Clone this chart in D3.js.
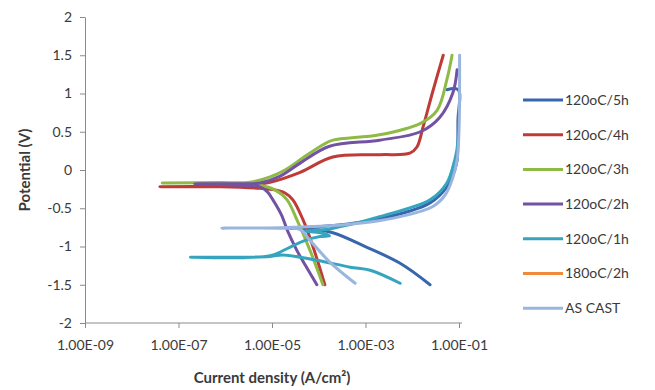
<!DOCTYPE html>
<html>
<head>
<meta charset="utf-8">
<script src="https://cdn.jsdelivr.net/npm/d3@7/dist/d3.min.js"></script>
<style>
  body { margin: 0; background: #fff; }
  svg text { font-family: Lato, "Open Sans", sans-serif; fill: #3a3a3a; }
</style>
</head>
<body>
<svg id="chart" width="655" height="390"></svg>
<script>
// Series names, in legend / drawing order
const seriesNames = ["120oC/5h", "120oC/4h", "120oC/3h", "120oC/2h", "120oC/1h", "180oC/2h", "AS CAST"];
const seriesColors = ["#3766ad", "#be3b37", "#8fba45", "#7352a3", "#35a5bf", "#f08a3a", "#9ab5de"];

// Polarisation curves: [current density (A/cm2), potential (V)]
const h5 = [[2.4e-2,-1.50],[5.5e-3,-1.22],[1.07e-3,-1.01],[2.0e-4,-0.82],[6.5e-5,-0.77],[4.0e-5,-0.76],[2.4e-5,-0.76],
  [4.0e-5,-0.755],[1.7e-4,-0.73],[2.0e-3,-0.64],[2.4e-2,-0.43],[5.5e-2,-0.22],[8.1e-2,0.0],[9.1e-2,0.13],[9.5e-2,0.65],[9.6e-2,1.05],[5.5e-2,1.05]];
const h4 = [[1.35e-4,-1.50],[7.6e-5,-1.01],[4.6e-5,-0.65],[2.8e-5,-0.39],[1.9e-5,-0.30],[1.15e-5,-0.26],[5.5e-6,-0.24],[7.8e-7,-0.22],[4.0e-8,-0.22],
  [7.8e-7,-0.21],[3.4e-6,-0.20],[9.1e-6,-0.16],[4.0e-5,-0.03],[2.0e-4,0.17],[2.0e-3,0.20],[8.9e-3,0.22],[1.26e-2,0.30],[1.7e-2,0.56],[2.7e-2,1.01],[4.6e-2,1.50]];
const h3 = [[1.23e-4,-1.50],[6.5e-5,-1.05],[3.4e-5,-0.65],[2.1e-5,-0.39],[1.15e-5,-0.26],[5.5e-6,-0.20],[7.8e-7,-0.17],[4.5e-8,-0.17],
  [7.8e-7,-0.165],[3.4e-6,-0.16],[9.1e-6,-0.09],[1.9e-5,0.0],[4.6e-5,0.16],[1.23e-4,0.33],[2.0e-4,0.39],[2.0e-3,0.46],[1.5e-2,0.61],[3.4e-2,0.78],[5.5e-2,1.18],[7.1e-2,1.50]];
const h2 = [[9.1e-5,-1.50],[5.1e-5,-1.24],[3.4e-5,-1.05],[2.2e-5,-0.81],[1.6e-5,-0.59],[1.15e-5,-0.43],[1.0e-5,-0.37],[8.1e-6,-0.29],[5.5e-6,-0.22],[2.1e-6,-0.20],[2.2e-7,-0.18],
  [2.1e-6,-0.18],[5.5e-6,-0.17],[1.5e-5,-0.08],[4.0e-5,0.09],[1.7e-4,0.31],[2.0e-3,0.39],[1.5e-2,0.50],[3.9e-2,0.69],[7.4e-2,1.01],[9.1e-2,1.31]];
const h1 = [[5.5e-3,-1.48],[1.26e-3,-1.31],[4.7e-4,-1.27],[9.1e-5,-1.18],[1.7e-5,-1.11],[9.1e-6,-1.13],[1.8e-7,-1.14],
  [9.1e-6,-1.12],[2.4e-5,-1.01],[5.1e-5,-0.92],[1.07e-4,-0.87],[1.7e-4,-0.86],[1.07e-4,-0.82],[5.1e-5,-0.80],
  [1.7e-4,-0.77],[2.0e-3,-0.61],[2.4e-2,-0.39],[5.5e-2,-0.17],[8.1e-2,0.13],[9.0e-2,0.26],[9.5e-2,0.39]];
const c180h2 = [];
const asCast = [[6.0e-4,-1.48],[1.7e-4,-1.20],[6.5e-5,-0.92],[4.0e-5,-0.78],[1.5e-5,-0.76],[8.5e-7,-0.76],
  [1.5e-5,-0.755],[1.7e-4,-0.73],[1.26e-3,-0.68],[5.5e-3,-0.61],[2.7e-2,-0.48],[5.0e-2,-0.33],[7.1e-2,-0.13],[9.1e-2,0.13],[1.0e-1,0.52],[1.03e-1,1.50]];
const seriesData = [h5, h4, h3, h2, h1, c180h2, asCast];

// Axes
const xTicks = [1e-9, 1e-7, 1e-5, 1e-3, 1e-1];
const xTickLabels = ["1.00E-09", "1.00E-07", "1.00E-05", "1.00E-03", "1.00E-01"];
const yTicks = [-2, -1.5, -1, -0.5, 0, 0.5, 1, 1.5, 2];
const xTitle = "Current density (A/cm²)";
const yTitle = "Potential (V)";

const svg = d3.select("#chart");
const margin = { top: 17, left: 85, right: 196, bottom: 67 };
const width = 655, height = 390;

const x = d3.scaleLog().domain([1e-9, 1e-1]).range([margin.left, width - margin.right]);
const y = d3.scaleLinear().domain([-2, 2]).range([height - margin.bottom, margin.top]);

const axisColor = "#8a8a8a";

// X axis
const gx = svg.append("g")
  .attr("transform", `translate(0,${height - margin.bottom})`)
  .call(d3.axisBottom(x).tickValues(xTicks).tickFormat((d, i) => xTickLabels[i]).tickSize(5).tickSizeOuter(0));
gx.select(".domain").attr("stroke", axisColor).attr("d", `M${x(1e-9)},0H${x(1e-1) + 3}`);
gx.selectAll(".tick line").attr("stroke", axisColor);
gx.selectAll(".tick text").attr("dy", "1.35em").style("font-size", "14px");

// Y axis
const gy = svg.append("g")
  .attr("transform", `translate(${margin.left},0)`)
  .call(d3.axisLeft(y).tickValues(yTicks).tickFormat(d => String(d)).tickSize(5).tickSizeOuter(0));
gy.select(".domain").attr("stroke", axisColor);
gy.selectAll(".tick line").attr("stroke", axisColor);
gy.selectAll(".tick text").attr("x", -13).style("font-size", "14px");
gy.selectAll("text").attr("fill", null);
gx.selectAll("text").attr("fill", null);

// Axis titles
svg.append("text")
  .attr("x", (x(1e-9) + x(1e-1)) / 2)
  .attr("y", 383)
  .attr("text-anchor", "middle")
  .style("font-size", "15px").style("font-weight", "bold")
  .text(xTitle);
svg.append("text")
  .attr("transform", `translate(30,${y(0)}) rotate(-90)`)
  .attr("text-anchor", "middle")
  .style("font-size", "15px").style("font-weight", "bold")
  .text(yTitle);

// Curves
const line = d3.line()
  .x(d => x(d[0]))
  .y(d => y(d[1]))
  .curve(d3.curveCatmullRom.alpha(0.5));

svg.append("g").selectAll("path")
  .data(seriesData)
  .join("path")
  .attr("fill", "none")
  .attr("stroke", (d, i) => seriesColors[i])
  .attr("stroke-width", 3)
  .attr("stroke-linejoin", "round")
  .attr("stroke-linecap", "round")
  .attr("d", d => d.length ? line(d) : null);

// Legend
const legend = svg.append("g").attr("transform", "translate(523,100)");
const item = legend.selectAll("g")
  .data(seriesNames)
  .join("g")
  .attr("transform", (d, i) => `translate(0,${i * 34.7})`);
item.append("line")
  .attr("x1", 0).attr("x2", 40)
  .attr("stroke", (d, i) => seriesColors[i])
  .attr("stroke-width", 3);
item.append("text")
  .attr("x", 42).attr("dy", "0.35em")
  .style("font-size", "14px")
  .text(d => d);
</script>
</body>
</html>
